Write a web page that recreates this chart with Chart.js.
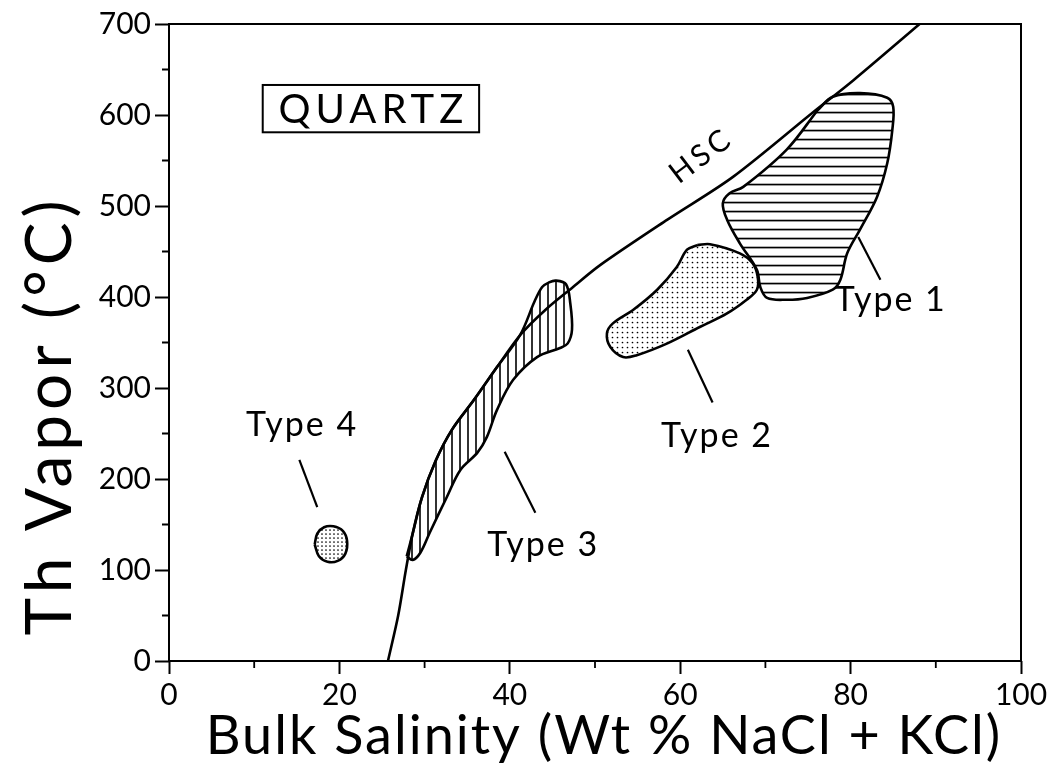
<!DOCTYPE html>
<html>
<head>
<meta charset="utf-8">
<script src="https://cdn.jsdelivr.net/npm/chart.js@4.4.1/dist/chart.umd.min.js"></script>
<style>
html,body{margin:0;padding:0;background:#fff;}
#wrap{width:1054px;height:782px;}
</style>
</head>
<body>
<div id="wrap"><canvas id="chart" width="1054" height="782"></canvas></div>
<script>
// Th vapor vs bulk salinity, quartz-hosted inclusion types
const xTicks = [0, 20, 40, 60, 80, 100];
const yTicks = [0, 100, 200, 300, 400, 500, 600, 700];

// halite saturation curve
const hscX = [25.7, 26.9, 27.8, 28.6, 29.7, 31.3, 33.2, 35.8, 38.5, 41.2, 44.2, 47.3, 50.6, 58.5, 66.2, 75.6, 80.3, 88.1];
const hscY = [0, 50, 100, 140, 180, 220, 254, 287, 323, 358, 386, 410, 435, 485, 532, 603, 638, 700];

// outlines of the fields
const type1X = [76.1, 77.9, 81.1, 84.3, 85.0, 84.9, 84.3, 83.1, 81.1, 79.6, 78.8, 77.9, 74.9, 72.5, 70.2, 69.4, 69.0, 67.0, 65.5, 65.0, 65.8, 67.4, 72.5];
const type1Y = [605, 620, 624, 619, 609, 584, 547, 510, 474, 448, 419, 408, 399, 397, 399, 411, 430, 459, 485, 503, 514, 521, 562];

const type2X = [62.0, 63.5, 67.0, 68.5, 69.1, 69.0, 67.8, 65.5, 62.3, 58.5, 54.9, 53.3, 51.8, 51.4, 52.1, 54.5, 57.3, 59.6, 60.8];
const type2Y = [457, 458, 448, 437, 422, 408, 397, 382, 367, 349, 336, 334, 345, 360, 371, 386, 408, 433, 452];

const type3X = [27.9, 28.6, 29.7, 31.3, 33.2, 35.8, 38.5, 41.2, 42.9, 43.8, 44.6, 45.4, 46.6, 47.1, 47.3, 46.8, 45.9, 43.2, 40.4, 38.5, 37.3, 36.2, 34.2, 32.6, 30.6, 29.5, 28.6];
const type3Y = [115, 140, 180, 220, 254, 287, 323, 358, 395, 411, 416, 418, 414, 393, 364, 349, 344, 334, 309, 276, 246, 229, 210, 180, 141, 119, 111];

const type4X = [17.1, 17.4, 18.2, 19.3, 20.4, 20.9, 20.7, 19.8, 18.6, 17.6];
const type4Y = [128, 140, 147, 148, 143, 132, 118, 110, 109, 115];

// leader lines from labels to fields
const leaderX = [[80.9, 83.5], [60.9, 63.8], [39.4, 43.0], [15.3, 17.4]];
const leaderY = [[466, 419], [342, 284], [230, 163], [221, 169]];

const labelText = ['Type 1', 'Type 2', 'Type 3', 'Type 4'];
const labelX = [84.6, 64.2, 43.8, 15.5];
const labelY = [397, 247, 127, 259];

const FONT = 'Lato, "DejaVu Sans", sans-serif';

function pts(xs, ys, close) {
  const d = xs.map((x, i) => ({x: x, y: ys[i]}));
  if (close) d.push({x: xs[0], y: ys[0]});
  return d;
}

function pattern(kind) {
  const c = document.createElement('canvas');
  const g = c.getContext('2d');
  g.fillStyle = '#000';
  if (kind === 'vert') {
    c.width = 8; c.height = 8;
    g.fillRect(3.2, 0, 1.6, 8);
  } else if (kind === 'horiz') {
    c.width = 9; c.height = 9;
    g.fillRect(0, 3.7, 9, 1.7);
  } else {
    const s = kind === 'dense' ? 4 : 5;
    c.width = s; c.height = s;
    g.beginPath();
    g.arc(s / 2, s / 2, 0.85, 0, Math.PI * 2);
    g.fill();
  }
  return g.createPattern(c, 'repeat');
}

function field(xs, ys, fill) {
  return {
    data: pts(xs, ys, true),
    showLine: true,
    fill: 'shape',
    backgroundColor: fill,
    borderColor: '#000',
    borderWidth: 2.6,
    pointRadius: 0,
    tension: 0.35
  };
}

const datasets = [
  {data: pts(hscX, hscY), showLine: true, borderColor: '#000', borderWidth: 2.6, pointRadius: 0, tension: 0.3, fill: false}
];
leaderX.forEach((lx, i) => {
  datasets.push({data: pts(lx, leaderY[i]), showLine: true, borderColor: '#000', borderWidth: 2.2, pointRadius: 0, fill: false});
});
datasets.push(field(type1X, type1Y, pattern('horiz')));
datasets.push(field(type2X, type2Y, pattern('dots')));
datasets.push(field(type3X, type3Y, pattern('vert')));
datasets.push(field(type4X, type4Y, pattern('dense')));

function text(ctx, str, px, py, size, spacing, angle) {
  ctx.save();
  ctx.translate(px, py);
  if (angle) ctx.rotate(angle * Math.PI / 180);
  ctx.font = size + 'px ' + FONT;
  ctx.letterSpacing = spacing + 'px';
  ctx.fillText(str, spacing / 2, 0);
  ctx.restore();
}

// frame, minor ticks, annotations, axis titles
const decor = {
  id: 'decor',
  afterDatasetsDraw(chart) {
    const {ctx, chartArea: a, scales: {x, y}} = chart;
    ctx.save();
    ctx.strokeStyle = '#000';
    ctx.lineWidth = 2;
    ctx.strokeRect(a.left, a.top, a.right - a.left, a.bottom - a.top);

    // minor ticks
    ctx.lineWidth = 1.8;
    ctx.beginPath();
    for (let v = 10; v < 100; v += 20) {
      const px = x.getPixelForValue(v);
      ctx.moveTo(px, a.bottom); ctx.lineTo(px, a.bottom + 7);
    }
    for (let v = 50; v < 700; v += 100) {
      const py = y.getPixelForValue(v);
      ctx.moveTo(a.left, py); ctx.lineTo(a.left - 7, py);
    }
    ctx.stroke();

    ctx.fillStyle = '#000';
    ctx.textAlign = 'center';
    ctx.textBaseline = 'middle';
    labelText.forEach((t, i) => {
      text(ctx, t, x.getPixelForValue(labelX[i]), y.getPixelForValue(labelY[i]), 34, 2);
    });

    text(ctx, 'HSC', x.getPixelForValue(62.3), y.getPixelForValue(554), 30, 4, -37);

    // QUARTZ box
    const bx0 = x.getPixelForValue(11.0), bx1 = x.getPixelForValue(36.4);
    const by0 = y.getPixelForValue(633), by1 = y.getPixelForValue(581);
    ctx.lineWidth = 2;
    ctx.strokeRect(bx0, by0, bx1 - bx0, by1 - by0);
    text(ctx, 'QUARTZ', (bx0 + bx1) / 2, (by0 + by1) / 2 + 1, 40, 5);

    text(ctx, 'Bulk Salinity (Wt % NaCl + KCl)', (a.left + a.right) / 2 + 8, 737, 54, 2);
    text(ctx, 'Th Vapor (°C)', 50, 418, 64, 5, -90);
    ctx.restore();
  }
};

chart = new Chart(document.getElementById('chart'), {
  type: 'scatter',
  data: {datasets: datasets},
  options: {
    responsive: false,
    animation: false,
    layout: {padding: {left: 0, right: 33, top: 24, bottom: 0}},
    plugins: {legend: {display: false}, tooltip: {enabled: false}},
    scales: {
      x: {
        type: 'linear', min: 0, max: 100,
        afterFit: s => { s.height = 121; },
        border: {display: false},
        grid: {drawOnChartArea: false, tickLength: 13, tickWidth: 2,
          tickColor: c => (xTicks.includes(c.tick.value) ? '#000' : 'rgba(0,0,0,0)')},
        ticks: {stepSize: 10, padding: 3, color: '#000', font: {family: FONT, size: 30}, maxRotation: 0,
          callback: v => (xTicks.includes(v) ? String(v) : '')}
      },
      y: {
        type: 'linear', min: 0, max: 700,
        afterFit: s => { s.width = 169; },
        border: {display: false},
        grid: {drawOnChartArea: false, tickLength: 14, tickWidth: 2,
          tickColor: c => (yTicks.includes(c.tick.value) ? '#000' : 'rgba(0,0,0,0)')},
        ticks: {stepSize: 50, padding: 4, color: '#000', font: {family: FONT, size: 30},
          callback: v => (yTicks.includes(v) ? String(v) : '')}
      }
    }
  },
  plugins: [decor]
});
</script>
</body>
</html>
